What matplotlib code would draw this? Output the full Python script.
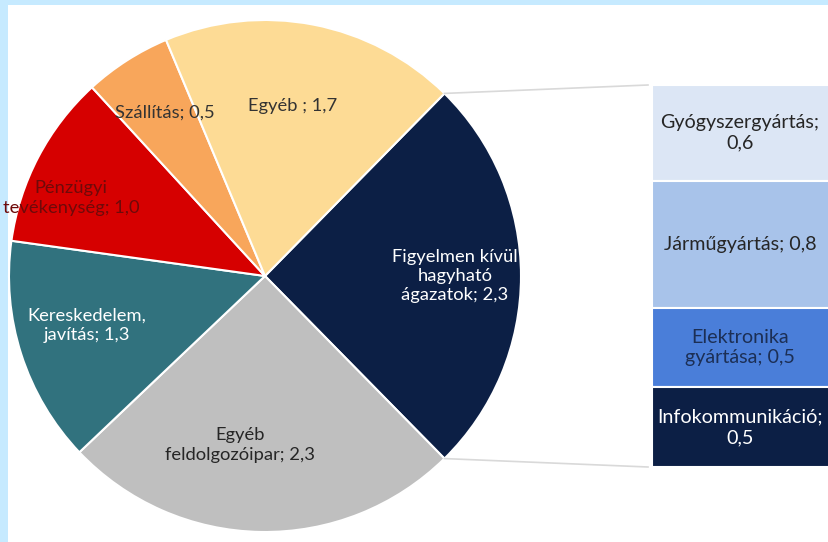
import numpy as np
import matplotlib.pyplot as plt
from matplotlib.patches import Rectangle

plt.rcParams['font.family'] = ['Lato', 'DejaVu Sans']

# main breakdown (pie)
pie_labels = ["Figyelmen kívül\nhagyható\nágazatok", "Egyéb\nfeldolgozóipar", "Kereskedelem,\njavítás",
              "Pénzügyi\ntevékenység", "Szállítás", "Egyéb "]
pie_values = [2.3, 2.3, 1.3, 1.0, 0.5, 1.7]
pie_colors = ["#0c1f45", "#bfbfbf", "#31727e", "#d60000", "#f8a65b", "#fddb95"]
pie_text_colors = ["white", "#262626", "white", "#6e0a0a", "#333333", "#333333"]

# breakdown of the first slice (stacked bar), top to bottom
bar_labels = ["Gyógyszergyártás;\n", "Járműgyártás; ", "Elektronika\ngyártása; ", "Infokommunikáció;\n"]
bar_values = [0.6, 0.8, 0.5, 0.5]
bar_colors = ["#dce6f5", "#a8c3ea", "#4a7ed9", "#0c1f45"]
bar_text_colors = ["#262626", "#262626", "#1c2f55", "white"]

LS = 1.25


def fmt(v):
    return f"{v:.1f}".replace(".", ",")


W, H = 829, 542
fig = plt.figure(figsize=(W / 100, H / 100), dpi=100, facecolor="#c6eaff")
ax = fig.add_axes([8 / W, 0, (W - 8) / W, (H - 5) / H])

cx, cy, r = 265, H - 276, 256
start = 180 * pie_values[0] / sum(pie_values)
wedges, _ = ax.pie(pie_values, colors=pie_colors, startangle=start, counterclock=False,
                   center=(cx, cy), radius=r, wedgeprops=dict(edgecolor="white", linewidth=1.5))

# label positions inside the slices (pixels from top-left)
label_pos = [(455, 276), (240, 445), (87, 325), (71, 198), (165, 113), (293, 106)]
for lab, v, (x, y), c in zip(pie_labels, pie_values, label_pos, pie_text_colors):
    ax.text(x, H - y, f"{lab}; {fmt(v)}", ha="center", va="center", color=c,
            fontsize=13.2, linespacing=LS)

# stacked bar on the right
bar_left, bar_right = 652, 832
bar_top, bar_bottom = H - 85, H - 467
scale = (bar_top - bar_bottom) / sum(bar_values)
y = bar_top
for lab, v, c, tc in zip(bar_labels, bar_values, bar_colors, bar_text_colors):
    h = v * scale
    ax.add_patch(Rectangle((bar_left, y - h), bar_right - bar_left, h, facecolor=c,
                           edgecolor="white", linewidth=1.5))
    ax.text((bar_left + bar_right) / 2 - 2, y - h / 2, f"{lab}{fmt(v)}", ha="center", va="center",
            color=tc, fontsize=14.2, linespacing=LS)
    y -= h

# connector lines from the slice edge to the bar
a1 = np.radians(wedges[0].theta1)
a2 = np.radians(wedges[0].theta2)
ax.plot([cx + r * np.cos(a2), bar_left - 4], [cy + r * np.sin(a2), bar_top], color="#d9d9d9", lw=1.2)
ax.plot([cx + r * np.cos(a1), bar_left - 4], [cy + r * np.sin(a1), bar_bottom], color="#d9d9d9", lw=1.2)

ax.set_xlim(8, W)
ax.set_ylim(0, H - 5)
ax.set_aspect("auto")
ax.set_frame_on(True)
ax.set_facecolor("white")
for s in ax.spines.values():
    s.set_visible(False)
ax.set_xticks([])
ax.set_yticks([])

fig.savefig("out.png", dpi=100, facecolor=fig.get_facecolor())
